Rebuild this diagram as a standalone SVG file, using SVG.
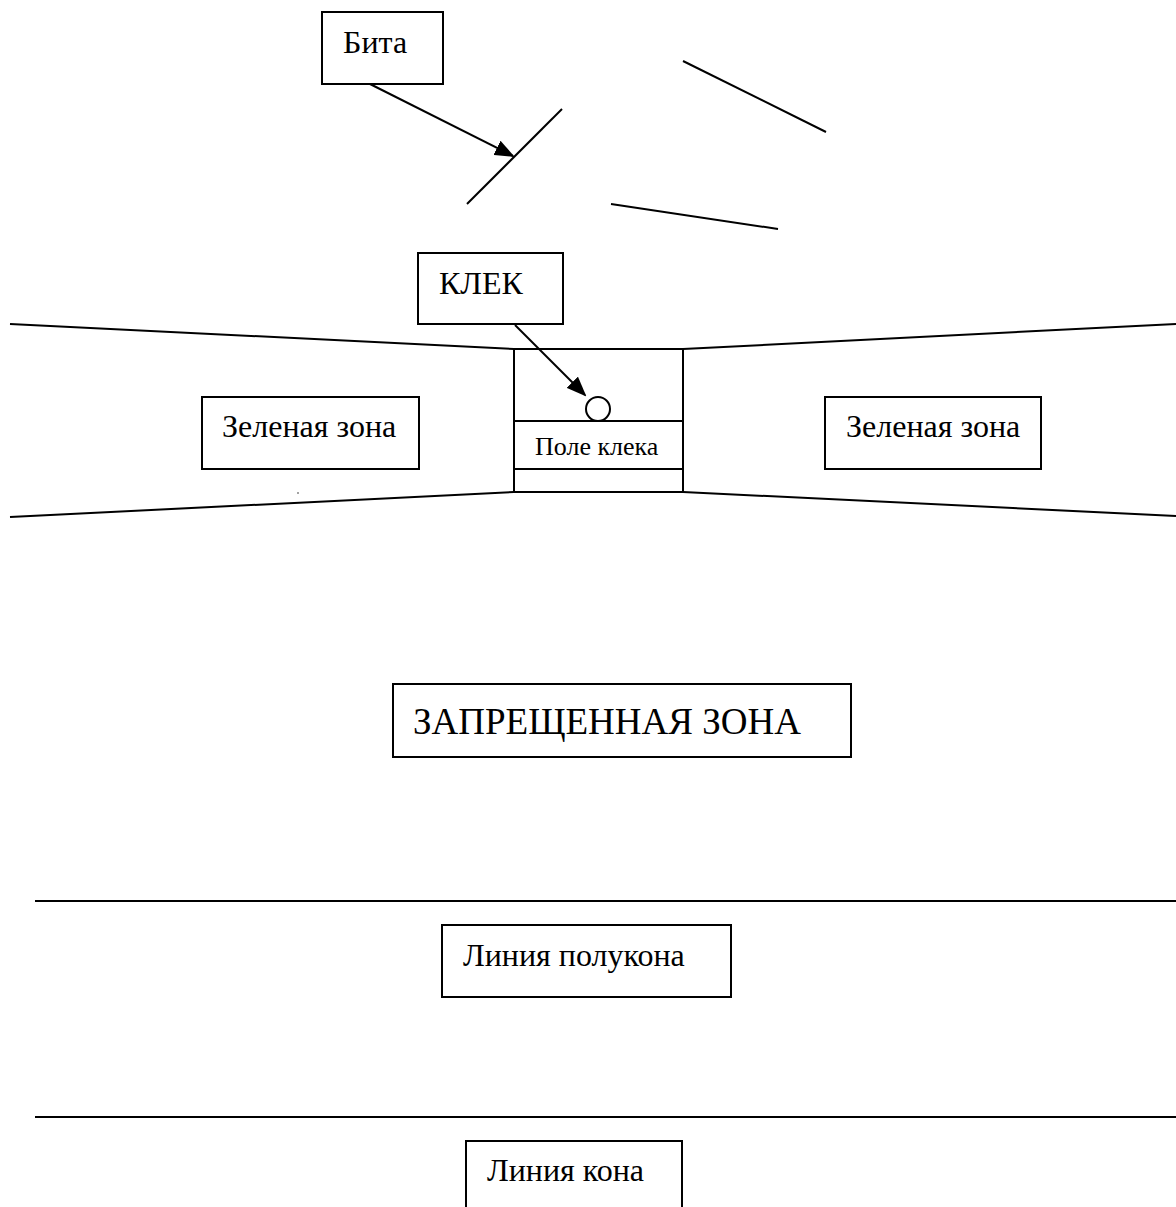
<svg xmlns="http://www.w3.org/2000/svg" width="1176" height="1207" viewBox="0 0 1176 1207">
<style>
.box{fill:#fff;stroke:#000;stroke-width:2}
.ln{stroke:#000;stroke-width:2;fill:none}
.t{font-family:"Liberation Serif","Times New Roman",serif;fill:#000}
</style>
<defs>
<marker id="ah" markerWidth="10" markerHeight="8" refX="9" refY="4" orient="auto" markerUnits="strokeWidth">
<path d="M0,0 L10,4 L0,8 Z" fill="#000"/>
</marker>
</defs>
<rect width="1176" height="1207" fill="#fff"/>
<g id="field">
<line class="ln" x1="10" y1="324" x2="514" y2="349"/>
<line class="ln" x1="10" y1="517" x2="514" y2="492"/>
<line class="ln" x1="683" y1="349" x2="1176" y2="324"/>
<line class="ln" x1="683" y1="492" x2="1176" y2="516"/>
<line class="ln" x1="611" y1="204" x2="778" y2="229"/>
<line class="ln" x1="683" y1="61" x2="826" y2="132"/>
<line class="ln" x1="35" y1="901" x2="1176" y2="901"/>
<line class="ln" x1="35" y1="1117" x2="1176" y2="1117"/>
<circle cx="298" cy="493" r="0.7" fill="#000"/>
</g>
<g id="bat">
<line class="ln" x1="562" y1="109" x2="467" y2="204"/>
</g>
<g id="pole">
<rect class="box" x="514" y="349" width="169" height="143"/>
<line class="ln" x1="514" y1="421" x2="683" y2="421"/>
<line class="ln" x1="514" y1="469" x2="683" y2="469"/>
<text class="t" x="535" y="455" font-size="26">Поле клека</text>
</g>
<g id="klek-ball">
<circle cx="598" cy="409" r="12" fill="#fff" stroke="#000" stroke-width="2"/>
</g>
<g id="bita">
<rect class="box" x="322" y="12" width="121" height="72"/>
<text class="t" x="343" y="53" font-size="32">Бита</text>
</g>
<g id="klek">
<rect class="box" x="418" y="253" width="145" height="71"/>
<text class="t" x="439" y="294" font-size="32">КЛЕК</text>
</g>
<g id="green-left">
<rect class="box" x="202" y="397" width="217" height="72"/>
<text class="t" x="222" y="437" font-size="32">Зеленая зона</text>
</g>
<g id="green-right">
<rect class="box" x="825" y="397" width="216" height="72"/>
<text class="t" x="846" y="437" font-size="32">Зеленая зона</text>
</g>
<g id="forbidden">
<rect class="box" x="393" y="684" width="458" height="73"/>
<text class="t" x="413" y="734" font-size="37">ЗАПРЕЩЕННАЯ ЗОНА</text>
</g>
<g id="polukon">
<rect class="box" x="442" y="925" width="289" height="72"/>
<text class="t" x="463" y="966" font-size="32">Линия полукона</text>
</g>
<g id="kon">
<rect class="box" x="466" y="1141" width="216" height="80"/>
<text class="t" x="487" y="1181" font-size="32">Линия кона</text>
</g>
<g id="connectors">
<line class="ln" x1="370" y1="84" x2="513" y2="156" marker-end="url(#ah)"/>
<line class="ln" x1="515" y1="325" x2="585" y2="395" marker-end="url(#ah)"/>
</g>
</svg>
